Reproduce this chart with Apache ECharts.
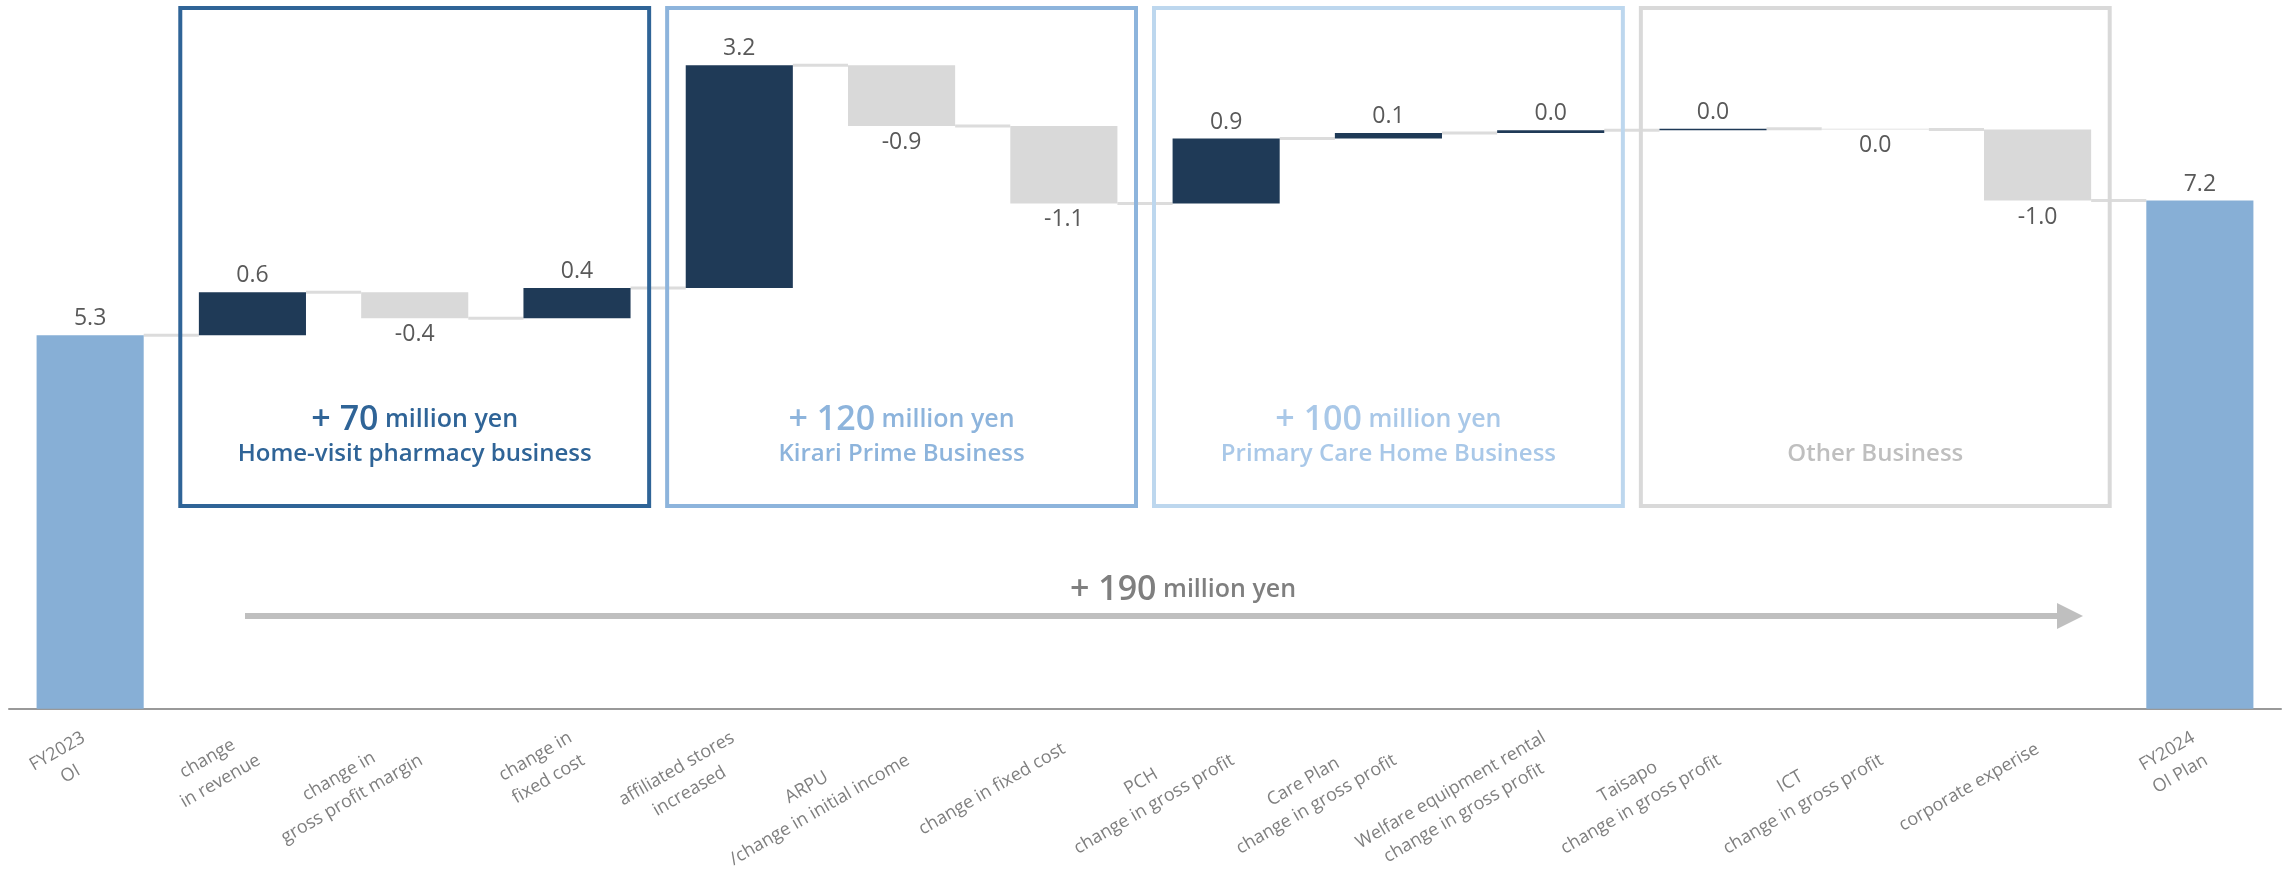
<!DOCTYPE html>
<html><head><meta charset="utf-8">
<script src="https://cdn.jsdelivr.net/npm/echarts@6/dist/echarts.min.js"></script>
<style>html,body{margin:0;padding:0;background:#fff}#c{width:2290px;height:876px}</style>
</head><body><div id="c"></div>
<script>
// ---- data ----
const categories = [
  'FY2023\nOI',
  'change\nin revenue',
  'change in\ngross profit margin',
  'change in\nfixed cost',
  'affiliated stores\nincreased',
  'ARPU\n/change in initial income',
  'change in fixed cost',
  'PCH\nchange in gross profit',
  'Care Plan\nchange in gross profit',
  'Welfare equipment rental\nchange in gross profit',
  'Taisapo\nchange in gross profit',
  'ICT\nchange in gross profit',
  'corporate experise',
  'FY2024\nOI Plan'
];
const startValue = 5.3;
const deltas = [0.61, -0.37, 0.43, 3.16, -0.86, -1.10, 0.92, 0.08, 0.04, 0.02, -0.01, -1.01];
const endValue = 7.21;

const groupAmounts = ['70', '120', '100', ''];
const groupNames = ['Home-visit pharmacy business', 'Kirari Prime Business', 'Primary Care Home Business', 'Other Business'];
const groupFirst = [1, 4, 7, 10];
const groupLast = [3, 6, 9, 12];
const totalChange = '190';

// ---- styles ----
const F = "'Open Sans', 'Noto Sans', sans-serif";
const NAVY = '#1f3a57', NEG = '#d9d9d9', TOTAL = '#87afd6';
const groupColors = ['#2f6497', '#8db4dc', '#bdd7ee', '#d9d9d9'];
const groupTextColors = ['#2f6497', '#8db4dc', '#a9c8e8', '#bfbfbf'];
const BAR_RATIO = 0.66;

// ---- derived ----
const signed = [startValue].concat(deltas, [endValue]);
const baseData = [0];
const valData = [{value: startValue, itemStyle: {color: TOTAL}, label: {position: 'top'}}];
const levels = [startValue];
let run = startValue;
deltas.forEach(d => {
  baseData.push(Math.min(run, run + d));
  valData.push({value: Math.abs(d), itemStyle: {color: d >= 0 ? NAVY : NEG}, label: {position: d >= 0 ? 'top' : 'bottom'}});
  run += d;
  levels.push(run);
});
baseData.push(0);
valData.push({value: endValue, itemStyle: {color: TOTAL}, label: {position: 'top'}});

function fmt(v) { let r = Math.round(v * 10) / 10; if (r === 0) r = 0; return r.toFixed(1); }

const chart = echarts.init(document.getElementById('c'), null, {renderer: 'canvas'});
chart.setOption({
  animation: false,
  backgroundColor: '#fff',
  grid: {left: 9, right: 9, top: 4, bottom: 164, containLabel: false},
  xAxis: {
    type: 'category', data: categories,
    axisTick: {show: false},
    axisLine: {show: true, lineStyle: {color: '#999', width: 2}},
    axisLabel: {
      interval: 0, rotate: 30, margin: 39,
      fontSize: 18, color: '#7f7f7f', fontFamily: F,
      formatter: v => v.split('\n').map(l => '{c|' + l + '}').join('\n'),
      rich: {c: {align: 'center', fontSize: 18, lineHeight: 26, color: '#7f7f7f', fontFamily: F}}
    }
  },
  yAxis: {type: 'value', min: 0, max: 10, show: false},
  series: [
    {
      name: 'connector', type: 'custom', coordinateSystem: 'cartesian2d', silent: true, z: 1,
      data: levels.map((v, i) => [i, v]),
      encode: {x: 0, y: 1},
      renderItem(params, api) {
        const i = params.dataIndex;
        if (i >= categories.length - 1) return null;
        const band = api.size([1, 0])[0];
        const half = band * BAR_RATIO / 2;
        const p0 = api.coord([i, levels[i]]);
        const p1 = api.coord([i + 1, levels[i]]);
        return {type: 'line', shape: {x1: p0[0] + half, y1: p0[1], x2: p1[0] - half, y2: p1[1]},
                style: {stroke: '#dcdcdc', lineWidth: 3}};
      }
    },
    {
      name: 'base', type: 'bar', stack: 'wf', data: baseData, barWidth: (BAR_RATIO * 100) + '%',
      itemStyle: {color: 'transparent'}, silent: true, z: 2
    },
    {
      name: 'value', type: 'bar', stack: 'wf', data: valData, barWidth: (BAR_RATIO * 100) + '%', z: 3,
      label: {show: true, fontSize: 23, color: '#595959', fontFamily: F, distance: 5,
              formatter: p => fmt(signed[p.dataIndex])}
    },
    {
      name: 'groups', type: 'custom', coordinateSystem: 'cartesian2d', silent: true, z: 5, clip: false,
      data: groupFirst.map((f, i) => [f, groupLast[i], 0]),
      encode: {x: [0, 1], y: 2},
      renderItem(params, api) {
        const i = params.dataIndex;
        const band = api.size([1, 0])[0];
        const x0 = api.coord([groupFirst[i], 0])[0] - band / 2 + 9;
        const x1 = api.coord([groupLast[i], 0])[0] + band / 2 - 9;
        const y0 = 8, y1 = 506, cx = (x0 + x1) / 2;
        const col = groupTextColors[i];
        const children = [{type: 'rect', shape: {x: x0, y: y0, width: x1 - x0, height: y1 - y0},
                           style: {fill: null, stroke: groupColors[i], lineWidth: 4}}];
        if (groupAmounts[i]) {
          children.push({type: 'text', style: {
            x: cx, y: 437, align: 'center', verticalAlign: 'bottom',
            text: '{a|+ ' + groupAmounts[i] + '}{b| million yen}',
            rich: {a: {fontSize: 34, fontWeight: 600, fontFamily: F, fill: col},
                   b: {fontSize: 25, fontWeight: 600, fontFamily: F, fill: col}}
          }});
        }
        children.push({type: 'text', style: {
          x: cx, y: 454, align: 'center', verticalAlign: 'middle', text: groupNames[i],
          fontSize: 24, fontWeight: 600, fontFamily: F, fill: col
        }});
        return {type: 'group', children};
      }
    }
  ],
  graphic: [
    {type: 'line', shape: {x1: 245, y1: 616, x2: 2060, y2: 616}, style: {stroke: '#bfbfbf', lineWidth: 6}, silent: true},
    {type: 'polygon', shape: {points: [[2057, 603], [2083, 616], [2057, 629]]}, style: {fill: '#bfbfbf'}, silent: true},
    {type: 'text', x: 1183, y: 607, silent: true, style: {
      align: 'center', verticalAlign: 'bottom',
      text: '{a|+ ' + totalChange + '}{b| million yen}',
      rich: {a: {fontSize: 34, fontWeight: 600, fontFamily: F, fill: '#7f7f7f'},
             b: {fontSize: 25, fontWeight: 600, fontFamily: F, fill: '#7f7f7f'}}
    }}
  ]
});
</script>
</body></html>
